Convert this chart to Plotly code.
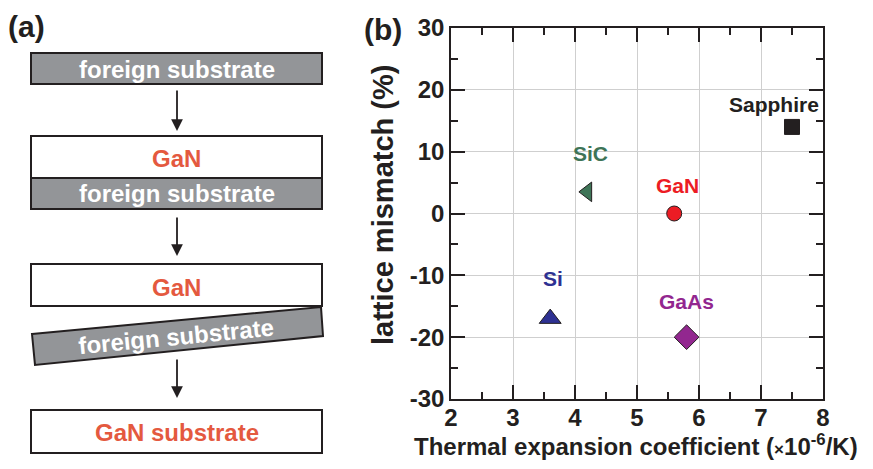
import plotly.graph_objects as go

# ---------------- data (panel b) ----------------
materials = ["Sapphire", "SiC", "GaN", "Si", "GaAs"]
thermal_expansion = [7.5, 4.2, 5.6, 3.6, 5.8]      # x10^-6 /K
lattice_mismatch = [14.0, 3.5, 0.0, -17.0, -20.0]  # %

x_ticks = [2, 3, 4, 5, 6, 7, 8]
x_ticklabels = ["2", "3", "4", "5", "6", "7", "8"]
y_ticks = [-30, -20, -10, 0, 10, 20, 30]
y_ticklabels = ["-30", "-20", "-10", "0", "10", "20", "30"]

# ---------------- data (panel a: process flow texts) ----------------
flow_texts = ["foreign substrate", "GaN", "foreign substrate", "GaN",
              "foreign substrate", "GaN substrate"]

# ---------------- styling ----------------
PAGE_W, PAGE_H = 873, 469
OFF = 8                      # default page body margin
W, H = PAGE_W - 2 * OFF, PAGE_H - 2 * OFF
FONT = "Liberation Sans"
DARK = "#231f20"
GREY = "#939598"
GAN_ORANGE = "#e4593f"
colors = ["#231f20", "#3e7457", "#ec1c24", "#2e3192", "#92278f"]
symbols = ["square", "triangle-left", "circle", "triangle-up", "diamond"]
sizes = [15, 17, 15, 19, 19]
label_shift = [(-18, 22), (3, 38), (3, 28), (3, 40), (0, 36)]

def px(x):
    return (x - OFF) / W

def py(y):
    return 1 - (y - OFF) / H

fig = go.Figure()

for i, m in enumerate(materials):
    fig.add_trace(go.Scatter(
        x=[thermal_expansion[i]], y=[lattice_mismatch[i]], mode="markers",
        marker=dict(symbol=symbols[i], size=sizes[i], color=colors[i],
                    line=dict(color=DARK, width=1)),
        name=m, showlegend=False, cliponaxis=False))

annotations = []
for i, m in enumerate(materials):
    annotations.append(dict(
        x=thermal_expansion[i], y=lattice_mismatch[i], xref="x", yref="y",
        text=m, showarrow=False, xshift=label_shift[i][0], yshift=label_shift[i][1],
        font=dict(family=FONT, size=21, color=colors[i], weight="bold")))

# axis titles
annotations.append(dict(
    x=px(636), y=py(445), xref="paper", yref="paper",
    text="Thermal expansion coefficient (<span style='font-size:17px'>×</span>10<sup>-6</sup>/K)",
    showarrow=False,
    font=dict(family=FONT, size=24, color=DARK, weight="bold"),
    xanchor="center", yanchor="middle"))
annotations.append(dict(
    x=px(383), y=py(205), xref="paper", yref="paper",
    text="lattice mismatch (%)", showarrow=False, textangle=-90,
    font=dict(family=FONT, size=29, color=DARK, weight="bold"),
    xanchor="center", yanchor="middle"))

# panel labels
annotations.append(dict(x=px(26), y=py(27), xref="paper", yref="paper", text="(a)",
                        showarrow=False, font=dict(family=FONT, size=30, color=DARK, weight="bold"),
                        xanchor="center", yanchor="middle"))
annotations.append(dict(x=px(383), y=py(29), xref="paper", yref="paper", text="(b)",
                        showarrow=False, font=dict(family=FONT, size=30, color=DARK, weight="bold"),
                        xanchor="center", yanchor="middle"))

# ---------------- panel a drawing ----------------
shapes = []
def rect(x0, y0, x1, y1, fill):
    shapes.append(dict(type="rect", xref="paper", yref="paper",
                       x0=px(x0), x1=px(x1), y0=py(y1), y1=py(y0),
                       fillcolor=fill, line=dict(color=DARK, width=2), layer="above"))

boxes = [  # (x0, y0, x1, y1, fill, text index, text color, text y)
    (31, 53, 322, 84, GREY, 0, "white", 69),
    (31, 136, 322, 178, "white", 1, GAN_ORANGE, 158),
    (31, 178, 322, 209, GREY, 2, "white", 193),
    (31, 264, 322, 306, "white", 3, GAN_ORANGE, 287),
    (31, 410, 322, 453, "white", 5, GAN_ORANGE, 432),
]
for (x0, y0, x1, y1, fill, ti, tc, ty) in boxes:
    rect(x0, y0, x1, y1, fill)
    annotations.append(dict(x=px((x0 + x1) / 2), y=py(ty), xref="paper", yref="paper",
                            text=flow_texts[ti], showarrow=False,
                            font=dict(family=FONT, size=24, color=tc, weight="bold"),
                            xanchor="center", yanchor="middle"))

# tilted foreign substrate
pts = [(32, 334), (321, 307), (323, 336), (35, 365)]
path = "M " + " L ".join(f"{px(a)},{py(b)}" for a, b in pts) + " Z"
shapes.append(dict(type="path", xref="paper", yref="paper", path=path,
                   fillcolor=GREY, line=dict(color=DARK, width=2), layer="above"))
annotations.append(dict(x=px(176), y=py(336), xref="paper", yref="paper",
                        text=flow_texts[4], showarrow=False, textangle=-5.5,
                        font=dict(family=FONT, size=24, color="white", weight="bold"),
                        xanchor="center", yanchor="middle"))

# arrows
for (yt, yh) in [(89, 131), (216, 256), (358, 398)]:
    annotations.append(dict(x=px(177), y=py(yh), xref="paper", yref="paper",
                            ax=0, ay=-(yh - yt), text="", showarrow=True,
                            arrowhead=2, arrowsize=1.3, arrowwidth=1.8,
                            arrowcolor=DARK, standoff=0))

axis_common = dict(
    ticks="inside", ticklen=14, tickwidth=1.5, tickcolor=DARK,
    showline=True, linecolor=DARK, linewidth=1.5, mirror="ticks",
    showgrid=True, gridcolor="#cfcfcf", gridwidth=1, zeroline=False,
    tickfont=dict(family=FONT, size=24, color=DARK, weight="bold"),
    automargin=False,
)

fig.update_layout(
    width=W, height=H, margin=dict(l=0, r=0, t=0, b=0),
    paper_bgcolor="white", plot_bgcolor="rgba(0,0,0,0)",
    xaxis=dict(range=[2, 8], domain=[px(451), px(823)], tickmode="array",
               tickvals=x_ticks, ticktext=x_ticklabels, ticklabelstandoff=-4,
               minor=dict(tickvals=[2.5, 3.5, 4.5, 5.5, 6.5, 7.5], ticks="inside",
                          ticklen=7, tickwidth=1.5, tickcolor=DARK, showgrid=False),
               **axis_common),
    yaxis=dict(range=[-30, 30], domain=[py(399), py(28)], tickmode="array",
               tickvals=y_ticks, ticktext=y_ticklabels,
               minor=dict(tickvals=[-25, -15, -5, 5, 15, 25], ticks="inside",
                          ticklen=7, tickwidth=1.5, tickcolor=DARK, showgrid=False),
               **axis_common),
    shapes=shapes, annotations=annotations, showlegend=False,
)

fig.write_html("out.html")
